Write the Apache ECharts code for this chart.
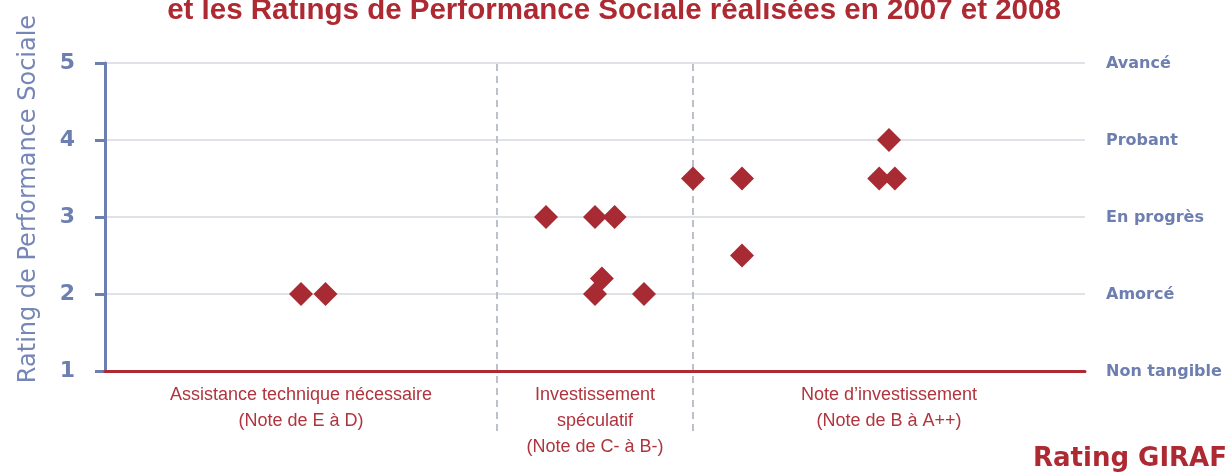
<!DOCTYPE html>
<html>
<head>
<meta charset="utf-8">
<script src="https://cdn.jsdelivr.net/npm/echarts@6/dist/echarts.min.js"></script>
<style>
  html, body { margin: 0; padding: 0; background: #fff; }
  #main { width: 1228px; height: 473px; }
</style>
</head>
<body>
<div id="main"></div>
<script>
// GIRAF score (x, 0-100) vs social performance rating (y, 1-5)
var girafScore = [20, 22.5, 45, 50, 52, 50.7, 50, 55, 60, 65, 65, 80, 79, 80.6];
var socialRating = [2, 2, 3, 3, 3, 2.2, 2, 2, 3.5, 3.5, 2.5, 4, 3.5, 3.5];

// zones along the GIRAF axis
var zoneBounds = [40, 60];
var zoneCenters = [20, 50, 80];
var zoneLabels = [
    'Assistance technique nécessaire\n(Note de E à D)',
    'Investissement\nspéculatif\n(Note de C- à B-)',
    'Note d\u2019investissement\n(Note de B à A++)'
];

// qualitative names for the rating levels 1..5
var levelLabels = ['Non tangible', 'Amorcé', 'En progrès', 'Probant', 'Avancé'];

var blue = '#6d7fb0';
var red = '#ad2a33';

var points = girafScore.map(function (x, i) { return [x, socialRating[i]]; });

var dividerSeries = zoneBounds.map(function (b) {
    return {
        type: 'line',
        xAxisIndex: 1,
        yAxisIndex: 2,
        data: [[b, 1], [b, 0]],
        symbol: 'none',
        silent: true,
        z: 1,
        lineStyle: { color: '#bcc1c9', width: 2, type: [7, 5] }
    };
});

var myChart = echarts.init(document.getElementById('main'));

var option = {
    animation: false,
    title: [{
        text: 'et les Ratings de Performance Sociale réalisées en 2007 et 2008',
        left: 'center',
        top: -4,
        padding: 0,
        textStyle: { color: red, fontSize: 29.5, fontWeight: 'bold', fontFamily: 'Liberation Sans' }
    }, {
        text: 'Rating GIRAF',
        right: 1,
        bottom: 1,
        padding: 0,
        textStyle: { color: red, fontSize: 26, fontWeight: 'bold', fontFamily: 'DejaVu Sans' }
    }],
    grid: [
        { left: 105, right: 143, top: 63, bottom: 102 },
        { left: 105, right: 143, top: 64, bottom: 37 }
    ],
    xAxis: [{
        type: 'value',
        gridIndex: 0,
        min: 0,
        max: 100,
        axisLine: { lineStyle: { color: red, width: 3 } },
        axisTick: { show: false },
        splitLine: { show: false },
        axisLabel: {
            customValues: zoneCenters,
            formatter: function (v) { return zoneLabels[zoneCenters.indexOf(v)]; },
            color: '#b0343d',
            fontSize: 18,
            lineHeight: 26,
            fontFamily: 'Liberation Sans',
            margin: 11
        },
        z: 3
    }, {
        type: 'value',
        gridIndex: 1,
        min: 0,
        max: 100,
        show: false
    }],
    yAxis: [{
        type: 'value',
        gridIndex: 0,
        min: 1,
        max: 5,
        interval: 1,
        axisLine: { show: true, lineStyle: { color: blue, width: 3 } },
        axisTick: { show: true, length: 10, lineStyle: { color: blue, width: 3 } },
        splitLine: { lineStyle: { color: '#d5d9df', width: 1.5 } },
        axisLabel: {
            color: blue,
            fontSize: 22,
            fontWeight: 'bold',
            fontFamily: 'DejaVu Sans',
            margin: 30
        },
        name: 'Rating de Performance Sociale',
        nameLocation: 'middle',
        nameGap: 64,
        nameTextStyle: {
            color: '#7686b6',
            fontSize: 24,
            fontFamily: 'DejaVu Sans',
            padding: [0, 0, 0, 36]
        }
    }, {
        type: 'value',
        gridIndex: 0,
        position: 'right',
        min: 1,
        max: 5,
        interval: 1,
        axisLine: { show: false },
        axisTick: { show: false },
        splitLine: { show: false },
        axisLabel: {
            formatter: function (v) { return levelLabels[v - 1]; },
            color: blue,
            fontSize: 16,
            fontWeight: 'bold',
            fontFamily: 'DejaVu Sans',
            margin: 21,
            verticalAlign: 'top',
            padding: [-7, 0, 0, 0]
        }
    }, {
        type: 'value',
        gridIndex: 1,
        min: 0,
        max: 1,
        show: false
    }],
    series: dividerSeries.concat([{
        type: 'scatter',
        xAxisIndex: 0,
        yAxisIndex: 0,
        data: points,
        symbol: 'diamond',
        symbolSize: 24,
        z: 5,
        itemStyle: { color: '#a82a33', opacity: 1 }
    }])
};

myChart.setOption(option);
</script>
</body>
</html>
